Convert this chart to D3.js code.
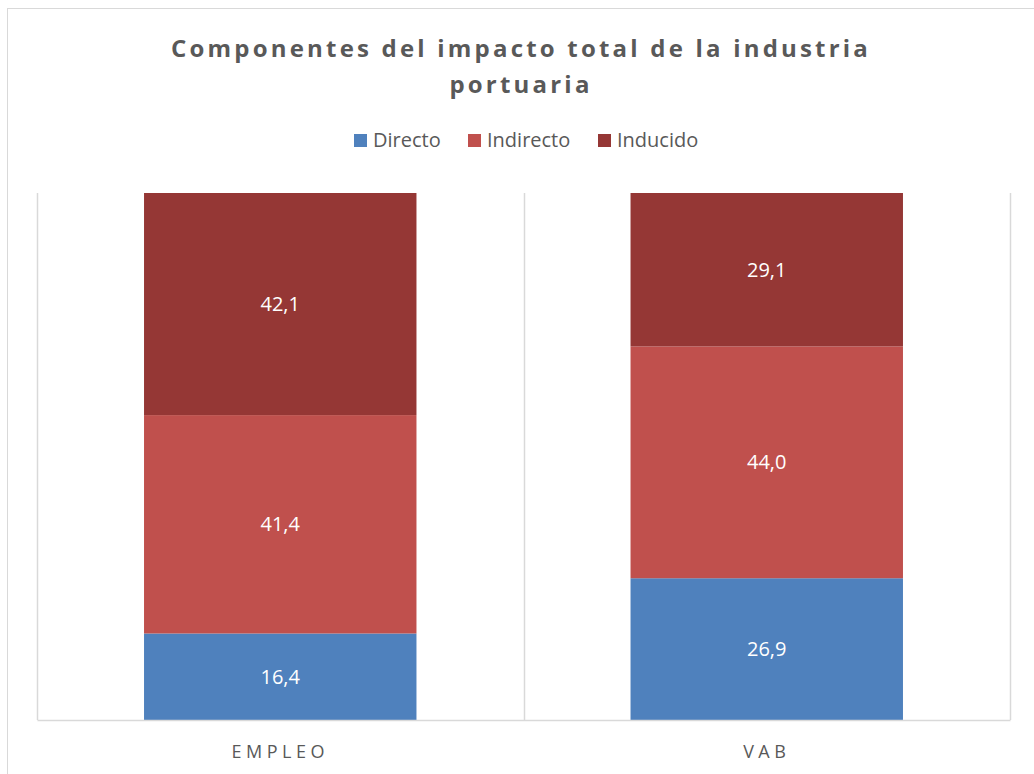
<!DOCTYPE html>
<html>
<head>
<meta charset="utf-8">
<script src="https://cdn.jsdelivr.net/npm/d3@7"></script>
<style>
  body { margin: 0; background: #fff; }
  svg { display: block; font-family: 'Open Sans', 'Liberation Sans', sans-serif; }
</style>
</head>
<body>
<div id="chart"></div>
<script>
const categories = ['EMPLEO', 'VAB']
const seriesNames = ['Directo', 'Indirecto', 'Inducido']
const directo = [16.4, 26.9]
const indirecto = [41.4, 44.0]
const inducido = [42.1, 29.1]
const colors = ['#4F81BD', '#C0504D', '#953735']

const width = 1034, height = 774
const margin = { top: 193, right: 24, bottom: 54, left: 37 }

const svg = d3.select('#chart').append('svg')
  .attr('width', width)
  .attr('height', height)

// chart frame
svg.append('rect')
  .attr('x', 7.5).attr('y', 8.5)
  .attr('width', 1100).attr('height', 800)
  .attr('fill', 'none')
  .attr('stroke', '#D9D9D9')

// title
let title = svg.append('text')
  .attr('text-anchor', 'middle')
  .style('font-size', '24px')
  .style('font-weight', 'bold')
  .style('letter-spacing', '3.2px')
  .style('fill', '#595959')
title.append('tspan').attr('x', 521).attr('y', 57).text('Componentes del impacto total de la industria')
title.append('tspan').attr('x', 521).attr('y', 93).text('portuaria')

// data as rows for the stack
let rows = categories.map((c, i) => ({
  cat: c, Directo: directo[i], Indirecto: indirecto[i], Inducido: inducido[i]
}))
let stacked = d3.stack().keys(seriesNames).offset(d3.stackOffsetExpand)(rows)

let x = d3.scaleBand()
  .domain(categories)
  .range([margin.left, width - margin.right])
  .paddingInner(0.44)
  .paddingOuter(0.22)
let band = d3.scaleBand().domain(categories).range([margin.left, width - margin.right])
let y = d3.scaleLinear().domain([0, 1]).range([height - margin.bottom, margin.top])

// vertical grid lines between categories
let gridX = [margin.left].concat(categories.map(c => band(c) + band.bandwidth()))
svg.append('g')
  .selectAll('line')
  .data(gridX)
  .enter()
  .append('line')
  .attr('x1', d => Math.round(d) + 0.5)
  .attr('x2', d => Math.round(d) + 0.5)
  .attr('y1', margin.top)
  .attr('y2', height - margin.bottom)
  .attr('stroke', '#D9D9D9')
  .attr('stroke-width', 1.5)

// bars
let layers = svg.append('g')
  .selectAll('g.layer')
  .data(stacked)
  .enter()
  .append('g')
  .classed('layer', true)
  .attr('fill', (d, i) => colors[i])

layers.selectAll('rect')
  .data(d => d)
  .enter()
  .append('rect')
  .attr('x', d => x(d.data.cat))
  .attr('width', x.bandwidth())
  .attr('y', d => y(d[1]))
  .attr('height', d => y(d[0]) - y(d[1]))

layers.selectAll('text')
  .data((d, i) => d.map(v => ({ v: v, key: stacked[i].key })))
  .enter()
  .append('text')
  .attr('x', d => x(d.v.data.cat) + x.bandwidth() / 2)
  .attr('y', d => (y(d.v[0]) + y(d.v[1])) / 2)
  .attr('dy', '0.36em')
  .attr('text-anchor', 'middle')
  .style('fill', '#fff')
  .style('font-size', '20px')
  .text(d => d3.format('.1f')(d.v.data[d.key]).replace('.', ','))

// x axis
let xAxis = svg.append('g')
  .attr('transform', 'translate(0,' + (height - margin.bottom) + ')')
  .call(d3.axisBottom(band).tickSize(0).tickPadding(25))
xAxis.select('.domain').attr('stroke', '#D9D9D9').attr('stroke-width', 1.5)
xAxis.selectAll('text')
  .style('font-family', "'Open Sans', 'Liberation Sans', sans-serif")
  .style('font-size', '18px')
  .style('letter-spacing', '4.5px')
  .style('fill', '#595959')

// legend
let legendX = [354, 468, 598]
let legend = svg.append('g')
  .selectAll('g.legend-entry')
  .data(seriesNames)
  .enter()
  .append('g')
  .classed('legend-entry', true)
  .attr('transform', (d, i) => 'translate(' + legendX[i] + ',140)')
legend.append('rect')
  .attr('x', 0).attr('y', -6)
  .attr('width', 13).attr('height', 13)
  .attr('fill', (d, i) => colors[i])
legend.append('text')
  .attr('x', 19)
  .attr('dy', '0.36em')
  .style('font-size', '20px')
  .style('fill', '#595959')
  .text(d => d)
</script>
</body>
</html>
